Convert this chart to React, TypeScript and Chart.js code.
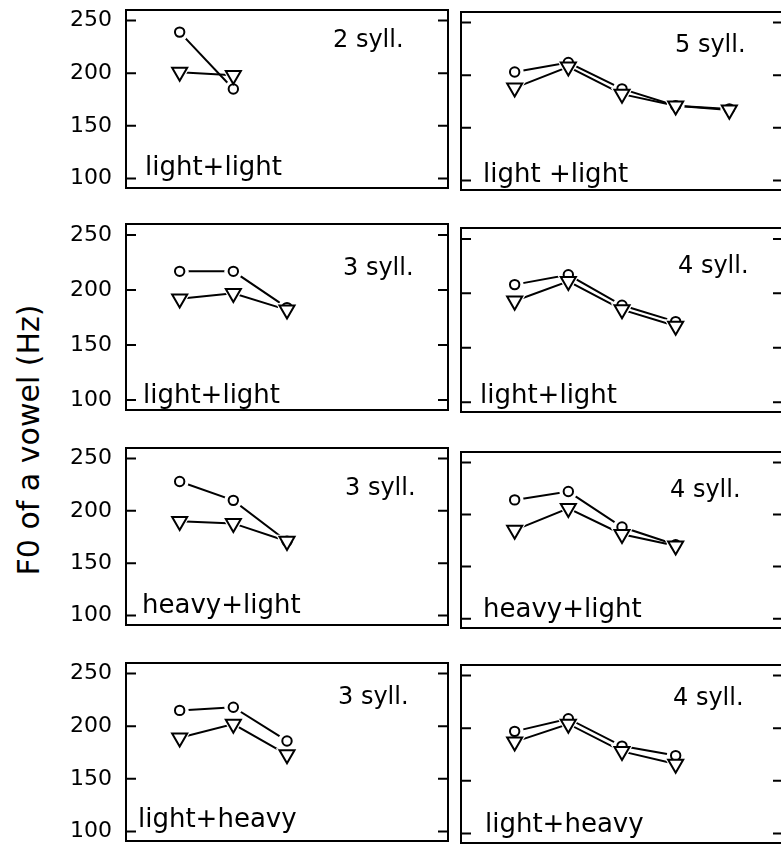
import React, { useEffect, useRef } from 'react';
import { Chart, registerables } from 'chart.js';

Chart.register(...registerables);

const FONT = '"DejaVu Sans", sans-serif';

// ---- data ----
const Y_TICKS = [100, 150, 200, 250];
const Y_MIN = 91;
const Y_MAX = 260;
const X_MIN = 0;
const X_MAX = 6;

const SYLL_LABELS = ['2 syll.', '5 syll.', '3 syll.', '4 syll.', '3 syll.', '4 syll.', '3 syll.', '4 syll.'];
const WEIGHT_LABELS = ['light+light', 'light +light', 'light+light', 'light+light', 'heavy+light', 'heavy+light', 'light+heavy', 'light+heavy'];
const Y_TITLE = 'F0 of a vowel (Hz)';

const circ2LL = [239, 185];
const tri2LL = [201, 198];
const circ5LL = [203, 212, 187, 171, 168];
const tri5LL = [188, 208, 182, 171, 167];
const circ3LL = [217, 217, 184];
const tri3LL = [192, 197, 182];
const circ4LL = [208, 217, 189, 174];
const tri4LL = [193, 211, 185, 170];
const circ3HL = [228, 210, 171];
const tri3HL = [190, 188, 171];
const circ4HL = [214, 222, 188, 171];
const tri4HL = [185, 206, 181, 170];
const circ3LH = [215, 218, 186];
const tri3LH = [189, 202, 173];
const circ4LH = [197, 209, 183, 174];
const tri4LH = [187, 204, 178, 166];

const CIRCLES = [circ2LL, circ5LL, circ3LL, circ4LL, circ3HL, circ4HL, circ3LH, circ4LH];
const TRIANGLES = [tri2LL, tri5LL, tri3LL, tri4LL, tri3HL, tri4HL, tri3LH, tri4LH];

// ---- layout (page pixels) ----
const LAYOUT = [
  { col: 0, top: 10, bottom: 188, sx: 207, sy: 37, wx: 19, wy: -13 },
  { col: 1, top: 12, bottom: 190, sx: 214, sy: 40, wx: 22, wy: -8 },
  { col: 0, top: 224, bottom: 410, sx: 217, sy: 51, wx: 17, wy: -7 },
  { col: 1, top: 228, bottom: 412, sx: 217, sy: 45, wx: 19, wy: -9 },
  { col: 0, top: 448, bottom: 625, sx: 219, sy: 47, wx: 16, wy: -12 },
  { col: 1, top: 452, bottom: 628, sx: 209, sy: 45, wx: 22, wy: -11 },
  { col: 0, top: 663, bottom: 841, sx: 212, sy: 41, wx: 12, wy: -14 },
  { col: 1, top: 665, bottom: 843, sx: 212, sy: 40, wx: 24, wy: -11 },
];

const PAD_V = 16;
const TICK_LEN = 10;

const frameDecor = {
  id: 'frameDecor',
  afterDraw(chart: any, _args: any, opts: any) {
    const { ctx, chartArea } = chart;
    const y = chart.scales.y;
    ctx.save();
    ctx.strokeStyle = '#000';
    ctx.lineWidth = 2;
    for (const v of Y_TICKS) {
      const py = y.getPixelForValue(v);
      ctx.beginPath();
      ctx.moveTo(chartArea.left, py);
      ctx.lineTo(chartArea.left + TICK_LEN, py);
      ctx.moveTo(chartArea.right, py);
      ctx.lineTo(chartArea.right - TICK_LEN, py);
      ctx.stroke();
    }
    ctx.fillStyle = '#000';
    ctx.textAlign = 'left';
    ctx.textBaseline = 'alphabetic';
    ctx.font = `24px ${FONT}`;
    ctx.fillText(opts.syll, chartArea.left + opts.sx, chartArea.top + opts.sy);
    ctx.font = `26px ${FONT}`;
    ctx.fillText(opts.weight, chartArea.left + opts.wx, chartArea.bottom + opts.wy);
    ctx.restore();
  },
};

const pts = (vals: number[]) => vals.map((v, i) => ({ x: i + 1, y: v }));

function lineDs(vals: number[]) {
  return {
    data: pts(vals),
    showLine: true,
    borderColor: '#000',
    borderWidth: 2,
    pointRadius: 0,
    order: 5,
  };
}

function haloDs(vals: number[], style: string, r: number) {
  return {
    data: pts(vals),
    showLine: false,
    pointStyle: style,
    pointRotation: style === 'triangle' ? 180 : 0,
    pointRadius: r,
    pointBackgroundColor: '#fff',
    pointBorderColor: '#fff',
    pointBorderWidth: 0,
    order: 3,
  };
}

function markDs(vals: number[], style: string, r: number, order: number) {
  return {
    data: pts(vals),
    showLine: false,
    pointStyle: style,
    pointRotation: style === 'triangle' ? 180 : 0,
    pointRadius: r,
    pointBackgroundColor: '#fff',
    pointBorderColor: '#000',
    pointBorderWidth: 2,
    order,
  };
}

function Panel({ idx }: { idx: number }) {
  const ref = useRef<HTMLCanvasElement>(null);
  const L = LAYOUT[idx];
  const isLeft = L.col === 0;
  const canvasLeft = isLeft ? 50 : 455;
  const canvasWidth = isLeft ? 400 : 330;
  const canvasTop = L.top - PAD_V;
  const canvasHeight = L.bottom - L.top + 2 * PAD_V;

  useEffect(() => {
    const border = { display: true, color: '#000', width: 2 };
    const grid = { display: true, drawOnChartArea: false, drawTicks: false };
    const chart = new Chart(ref.current as HTMLCanvasElement, {
      type: 'scatter',
      data: {
        datasets: [
          lineDs(CIRCLES[idx]),
          lineDs(TRIANGLES[idx]),
          haloDs(CIRCLES[idx], 'circle', 9),
          haloDs(TRIANGLES[idx], 'triangle', 13),
          markDs(CIRCLES[idx], 'circle', 4.7, 2),
          markDs(TRIANGLES[idx], 'triangle', 8.7, 1),
        ] as any,
      },
      options: {
        responsive: false,
        animation: false,
        events: [],
        layout: {
          autoPadding: false,
          padding: { left: isLeft ? 0 : 6, right: 2, top: PAD_V, bottom: PAD_V },
        },
        plugins: {
          legend: { display: false },
          tooltip: { enabled: false },
          frameDecor: {
            syll: SYLL_LABELS[idx],
            weight: WEIGHT_LABELS[idx],
            sx: L.sx,
            sy: L.sy,
            wx: L.wx,
            wy: L.wy,
          },
        } as any,
        scales: {
          x: {
            type: 'linear', position: 'bottom', min: X_MIN, max: X_MAX,
            ticks: { display: false }, grid, border,
          },
          x2: {
            type: 'linear', position: 'top', min: X_MIN, max: X_MAX,
            ticks: { display: false }, grid, border,
          },
          y: {
            type: 'linear', position: 'left', min: Y_MIN, max: Y_MAX,
            afterBuildTicks: (s: any) => { s.ticks = Y_TICKS.map((v) => ({ value: v })); },
            afterFit: (s: any) => {
              if (isLeft) s.width = 76;
              s.paddingTop = 0;
              s.paddingBottom = 0;
            },
            ticks: {
              display: isLeft, padding: 14, color: '#000',
              font: { family: FONT, size: 22 },
            },
            grid, border,
          },
          y2: {
            type: 'linear', position: 'right', min: Y_MIN, max: Y_MAX,
            ticks: { display: false }, grid, border,
          },
        } as any,
      },
      plugins: [frameDecor as any],
    });
    return () => chart.destroy();
  }, [idx]);

  return (
    <canvas
      ref={ref}
      width={canvasWidth}
      height={canvasHeight}
      style={{ position: 'absolute', left: canvasLeft, top: canvasTop, width: canvasWidth, height: canvasHeight }}
    />
  );
}

export default function App() {
  return (
    <div style={{ position: 'absolute', left: 0, top: 0, width: 781, height: 847, overflow: 'hidden', background: '#fff' }}>
      <div
        style={{
          position: 'absolute', left: 29, top: 440,
          transform: 'translate(-50%, -50%) rotate(-90deg)',
          whiteSpace: 'nowrap', fontFamily: FONT, fontSize: 30, color: '#000', lineHeight: 1,
        }}
      >
        {Y_TITLE}
      </div>
      {LAYOUT.map((_, i) => (
        <Panel key={i} idx={i} />
      ))}
    </div>
  );
}
